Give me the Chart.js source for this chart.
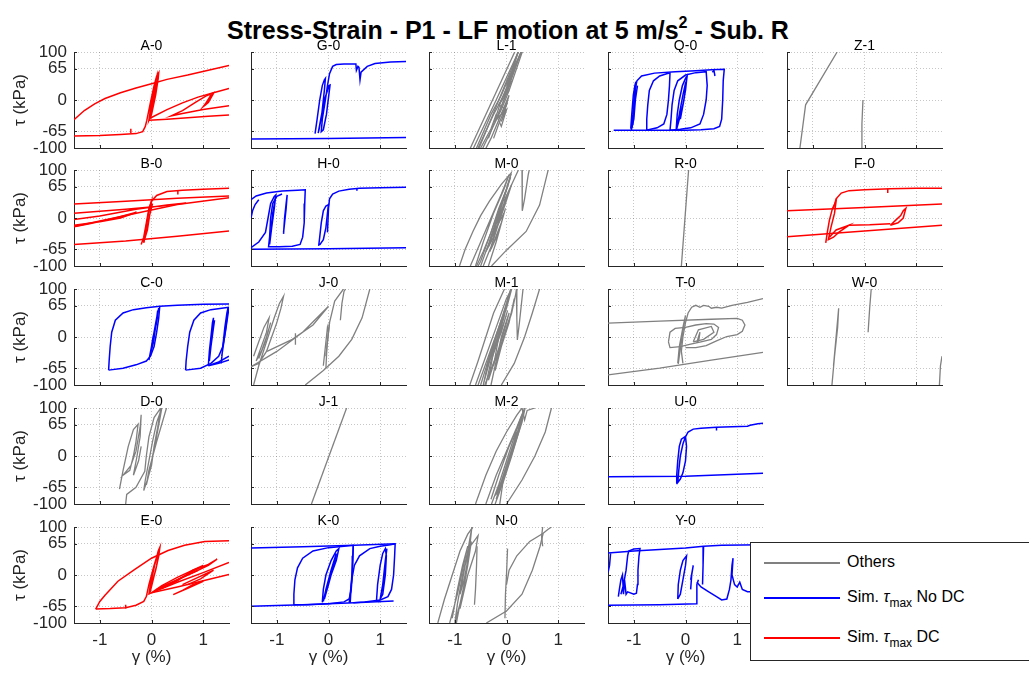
<!DOCTYPE html>
<html><head><meta charset="utf-8">
<script src="https://cdn.jsdelivr.net/npm/chart.js@4/dist/chart.umd.min.js"></script>
<style>
body{margin:0;background:#fff;width:1029px;height:673px;overflow:hidden;position:relative;font-family:"Liberation Sans",Arial,sans-serif;color:#000;}
canvas{position:absolute;}
#title{position:absolute;left:0;width:1016px;top:15px;text-align:center;font-weight:bold;font-size:25px;line-height:30px;}
#title sup{font-size:16px;vertical-align:11px;line-height:0;}
#legend{position:absolute;left:750px;top:542px;width:300px;height:117px;border:1px solid #262626;background:#fff;z-index:5;}
.li{position:absolute;left:13px;width:76px;height:2px;}
.lt{position:absolute;left:96px;font-size:16px;line-height:18px;color:#000;}
.lt sub{font-size:12px;vertical-align:-5px;line-height:0;}
</style></head><body>
<div id="title">Stress-Strain - P1 - LF motion at 5 m/s<sup>2</sup> - Sub. R</div>
<div id="legend">
 <div class="li" style="top:19px;background-color:#808080"></div><div class="lt" style="top:10px">Others</div>
 <div class="li" style="top:54px;background-color:#0000ff"></div><div class="lt" style="top:45px">Sim. <i>τ</i><sub>max</sub> No DC</div>
 <div class="li" style="top:94px;background-color:#ff0000"></div><div class="lt" style="top:85px">Sim. <i>τ</i><sub>max</sub> DC</div>
</div>
<script>
const xTicks = [-1, 0, 1];
const yTicks = [-100, -65, 0, 65, 100];
const panelNames = [["A-0","G-0","L-1","Q-0","Z-1"],["B-0","H-0","M-0","R-0","F-0"],["C-0","J-0","M-1","T-0","W-0"],["D-0","J-1","M-2","U-0",null],["E-0","K-0","N-0","Y-0",null]];
const GRAY = "#808080", BLUE = "#0000ff", RED = "#ff0000";
const panelColors = {"A-0":RED,"B-0":RED,"E-0":RED,"F-0":RED,"G-0":BLUE,"Q-0":BLUE,"H-0":BLUE,"C-0":BLUE,"U-0":BLUE,"K-0":BLUE,"Y-0":BLUE};

const A0 = [
 [[-1.5,-41],[-1.3,-22],[-1.1,-8],[-0.9,3],[-0.6,15],[-0.3,25],[0,34],[0.3,43],[0.7,52],[1.1,62],[1.5,72]],
 [[-1.5,-75],[-1.0,-74],[-0.6,-72],[-0.3,-70],[-0.17,-66],[-0.12,-55],[-0.09,-42],[-0.02,-5],[0.05,30],[0.1,50],[0.14,57],[0.13,45],[0.08,10],[0.0,-30],[-0.05,-42],[-0.02,-20],[0.05,20],[0.11,52],[0.12,40],[0.06,0],[-0.02,-38],[0.02,-10],[0.09,40],[0.08,20],[0.02,-20],[-0.04,-40]],
 [[-0.03,-38],[0.3,-20],[0.6,-6],[0.9,6],[1.2,15],[1.5,24]],
 [[1.5,-12],[1.0,-20],[0.6,-28],[0.38,-33],[0.6,-22],[0.85,-5],[1.05,8],[1.2,15],[1.15,5],[1.05,-10],[1.0,-14],[1.1,0],[1.2,14],[1.1,-5],[1.02,-12],[1.15,10]],
 [[-0.05,-42],[0.3,-40],[0.7,-37],[1.1,-34],[1.5,-31]],
 [[-0.4,-60],[-0.4,-69]]
];
const G0 = [
 [[-1.5,-81.5],[0,-80],[1.5,-78]],
 [[-0.26,-70],[-0.22,-40],[-0.17,0],[-0.12,30],[-0.08,42],[-0.06,45],[-0.08,20],[-0.13,-30],[-0.18,-60],[-0.2,-69],[-0.15,-40],[-0.08,0],[-0.02,20],[0.01,30],[0.03,31],[0.0,5],[-0.04,-30],[-0.1,-62],[-0.14,-66],[-0.12,-40],[-0.06,0],[-0.02,30],[0.02,55],[0.08,70],[0.15,74],[0.3,75],[0.53,75],[0.54,62],[0.57,70],[0.59,68],[0.61,42],[0.63,58],[0.75,70],[0.9,76],[1.2,79],[1.5,80]]
];
const L1 = [
 [[-0.72,-105],[0.18,105]],
 [[0.25,105],[-0.3,-40],[-0.55,-105]],
 [[-0.48,-105],[-0.1,-20],[0.05,20],[0.32,105]],
 [[0.28,100],[0.0,20],[-0.15,-10],[0.05,30],[-0.05,0],[0.1,40],[-0.2,-40],[0.0,-20],[-0.1,-45],[0.05,10],[-0.3,-80],[-0.42,-105]],
 [[-0.6,-105],[-0.3,-30],[-0.1,10],[0.1,60],[0.22,100],[0.1,50],[-0.1,0],[-0.25,-50],[-0.35,-80]],
 [[-0.66,-105],[-0.2,0],[0.25,105]],
 [[-0.5,-100],[-0.3,-60],[-0.2,-30],[-0.1,-55],[0.0,-20],[-0.15,-10],[0.05,20],[-0.05,10],[0.1,50],[0.0,30],[0.15,70],[0.3,100]],
 [[-0.55,-100],[-0.25,-30],[-0.05,10],[0.2,80],[0.28,100],[0.15,60],[-0.05,0],[-0.2,-40],[-0.1,-30],[0.02,-5],[-0.15,-50],[-0.25,-80]]
];
const Q0 = [
 [[-1.39,-63],[-1.05,-63],[-1.02,-50],[-1.0,-20],[-0.98,20],[-0.94,40],[-0.85,50],[-0.6,56],[-0.2,59],[0.2,61],[0.5,63],[0.75,64],[0.73,40],[0.72,0],[0.7,-40],[0.66,-55],[0.55,-60],[0.3,-62],[0.0,-63],[-0.3,-63],[-0.7,-63],[-1.05,-63]],
 [[-1.06,-60],[-1.04,-30],[-1.01,10],[-0.98,30],[-0.96,38],[-0.98,10],[-1.01,-30],[-1.04,-58],[-1.0,-40],[-0.97,0],[-0.93,30]],
 [[-0.76,-63],[-0.75,-40],[-0.73,-10],[-0.7,20],[-0.62,40],[-0.5,50],[-0.35,55],[-0.3,56],[-0.31,30],[-0.33,0],[-0.36,-30],[-0.42,-50],[-0.55,-58],[-0.76,-63]],
 [[-0.3,-63],[-0.28,-40],[-0.26,-10],[-0.22,20],[-0.15,40],[0.0,52],[0.2,57],[0.4,59],[0.42,30],[0.4,0],[0.35,-30],[0.28,-50],[0.1,-58],[-0.1,-61],[-0.3,-63]],
 [[-0.18,-62],[-0.16,-30],[-0.12,0],[-0.06,30],[0.0,45],[0.03,50],[0.0,20],[-0.05,-10],[-0.12,-40],[-0.17,-60],[-0.12,-30],[-0.05,10],[0.0,35],[0.02,40],[-0.03,0],[-0.1,-40]],
 [[0.52,58],[0.55,62],[0.57,50]]
];
const Z1 = [
 [[-1.25,-100],[-1.14,-10],[-0.53,100]],
 [[-0.06,-100],[-0.05,-50],[-0.03,0]]
];
const B0 = [
 [[-0.15,-52],[-0.12,-30],[-0.08,-5],[-0.04,20],[0.0,35],[0.1,47],[0.3,55],[0.6,58],[1.0,60],[1.5,62]],
 [[0.51,58],[0.51,49]],
 [[-1.5,29],[-0.5,35],[0.5,41],[1.5,46]],
 [[-1.5,10],[-0.5,18],[0.2,25],[0.67,31],[0.3,27],[-0.3,18],[-1.0,4],[-1.5,-3]],
 [[-1.5,-15],[-1.0,-8],[-0.6,0],[-0.29,12],[-0.7,0],[-1.2,-12],[-1.5,-18]],
 [[-1.5,-18],[-0.5,5],[0.5,28],[1.5,42]],
 [[-0.2,-55],[-0.15,-40],[-0.1,-10],[-0.05,20],[0.0,35],[-0.03,10],[-0.08,-25],[-0.15,-50],[-0.1,-30],[-0.03,10],[0.02,30],[-0.05,0],[-0.12,-40]],
 [[-1.5,-55],[-0.5,-48],[0.5,-38],[1.5,-27]]
];
const H0 = [
 [[-1.5,-65],[0,-64],[1.5,-62]],
 [[-1.5,38],[-1.4,46],[-1.2,52],[-0.9,56],[-0.6,58],[-0.45,59],[-0.46,30],[-0.47,-10],[-0.5,-40],[-0.55,-55],[-0.7,-59],[-0.95,-60],[-1.16,-60],[-1.14,-40],[-1.12,0],[-1.08,30],[-1.0,45],[-0.9,50]],
 [[-1.5,-62],[-1.35,-50],[-1.22,-30],[-1.17,0],[-1.12,30],[-1.05,45],[-1.02,48],[-1.05,20],[-1.1,-20],[-1.14,-55],[-1.12,-30],[-1.08,10],[-1.03,40]],
 [[-0.87,-33],[-0.85,0],[-0.82,30],[-0.8,48],[-0.82,20],[-0.85,-10],[-0.87,-30],[-0.83,10],[-0.81,40]],
 [[-1.5,0],[-1.47,15],[-1.42,28],[-1.35,38]],
 [[-0.19,-58],[-0.17,-40],[-0.14,-10],[-0.1,15],[-0.05,25],[0.0,28],[-0.02,10],[-0.05,-20],[-0.1,-45],[-0.17,-56]],
 [[-0.02,-30],[0.0,20],[0.02,40],[0.08,50],[0.2,56],[0.4,60],[0.6,62],[1.0,63],[1.5,64]],
 [[0.55,62],[0.55,57]]
];
const M0 = [
 [[-0.91,-100],[-0.8,-65],[-0.65,-28],[-0.5,5],[-0.33,35],[-0.1,70],[0.09,94],[0.0,60],[-0.1,30],[-0.2,0],[-0.3,-30],[-0.4,-60],[-0.5,-90],[-0.55,-100]],
 [[-0.58,-100],[-0.45,-70],[-0.3,-30],[-0.15,20],[0.0,60],[0.09,92],[-0.05,40],[-0.2,-10],[-0.35,-60],[-0.3,-40],[-0.15,0],[-0.05,30],[0.0,45],[-0.1,10],[-0.25,-40],[-0.4,-70],[-0.2,-20],[-0.05,10],[-0.15,-30],[-0.3,-65],[-0.1,-10],[-0.02,20],[-0.2,-50],[-0.35,-100]],
 [[-0.29,-100],[0.0,-67],[0.38,-28],[0.64,27],[0.8,97],[0.82,105]],
 [[0.3,100],[0.3,50],[0.31,15],[0.35,40],[0.42,90],[0.44,100]],
 [[0.23,100],[0.1,70],[-0.05,35]],
 [[-0.7,-100],[-0.5,-50],[-0.3,0],[-0.1,50],[0.05,90],[-0.05,60],[-0.25,10],[-0.45,-50],[-0.6,-100]],
 [[-0.45,-100],[-0.3,-60],[-0.15,-10],[0.0,40],[0.1,70],[-0.02,30],[-0.18,-20],[-0.32,-70]],
 [[-0.5,-100],[-0.35,-55],[-0.2,-5],[-0.05,45],[0.08,85],[-0.08,35],[-0.22,-15],[-0.35,-60]]
];
const R0 = [
 [[-0.08,-100],[0.06,100]]
];
const F0 = [
 [[-1.5,15],[0,22],[1.5,29]],
 [[-1.5,-39],[0,-27],[1.5,-15]],
 [[-0.6,20],[-0.55,40],[-0.45,52],[-0.3,57],[0,59],[0.5,61],[1.0,62],[1.5,62]],
 [[0.45,61],[0.45,52]],
 [[-0.75,-52],[-0.72,-30],[-0.68,-5],[-0.62,20],[-0.55,35],[-0.58,10],[-0.65,-20],[-0.7,-45],[-0.6,-40],[-0.5,-30],[-0.3,-15],[-0.55,-25],[-0.68,-40]],
 [[-0.3,-15],[0.1,-14],[0.5,-12]],
 [[0.5,-15],[0.6,-5],[0.7,5],[0.75,15],[0.8,20],[0.75,0],[0.65,-10],[0.5,-15]]
];
const C0 = [
 [[-0.83,-69],[-0.82,-50],[-0.8,-20],[-0.77,10],[-0.7,35],[-0.55,50],[-0.35,57],[-0.1,61],[0.16,64],[0.5,66],[1.0,68],[1.5,69]],
 [[0.16,64],[0.14,40],[0.1,10],[0.05,-20],[-0.02,-40],[-0.1,-50],[-0.3,-58],[-0.55,-65],[-0.83,-69]],
 [[-0.05,-48],[0.0,-20],[0.05,10],[0.1,40],[0.14,60],[0.1,30],[0.03,0],[-0.03,-40],[0.04,-10],[0.09,30],[0.12,55],[0.08,20],[0.0,-20]],
 [[0.66,-69],[0.67,-50],[0.7,-20],[0.74,10],[0.82,35],[0.95,50],[1.15,57],[1.5,62]],
 [[1.5,62],[1.47,40],[1.43,10],[1.38,-20],[1.3,-40],[1.15,-55],[0.95,-65],[0.66,-69]],
 [[1.1,-60],[1.12,-30],[1.15,0],[1.18,30],[1.2,40],[1.17,0],[1.12,-50],[1.15,-20],[1.2,20],[1.22,35]],
 [[1.5,-40],[1.3,-52],[1.1,-60],[1.3,-55],[1.5,-48]],
 [[1.35,-55],[1.38,-20],[1.42,20],[1.46,50],[1.48,60],[1.45,30],[1.4,-10],[1.36,-40]]
];
const J0 = [
 [[-1.45,-100],[-1.35,-60],[-1.2,-10],[-1.05,40],[-0.95,70],[-0.87,85],[-0.92,60],[-1.0,30],[-1.1,0],[-1.2,-30],[-1.35,-55],[-1.5,-62]],
 [[-1.5,-62],[-1.0,-30],[-0.5,10],[0.0,64],[-0.3,25],[-0.7,-5],[-1.19,-30]],
 [[-1.45,-40],[-1.35,-10],[-1.25,20],[-1.15,40],[-1.2,10],[-1.3,-20],[-1.4,-50],[-1.3,-30],[-1.2,0],[-1.12,30],[-1.22,-10],[-1.35,-45]],
 [[-0.64,8],[-0.64,-16]],
 [[-0.45,-100],[-0.1,-70],[0.2,-40],[0.45,-5],[0.65,40],[0.8,100]],
 [[-0.05,-65],[-0.03,-20],[0.02,30],[0.12,75],[0.29,100]],
 [[-0.1,-60],[-0.06,-20],[-0.02,20],[0.0,10],[-0.05,-40],[-0.02,-10],[0.02,30]],
 [[0.23,35],[0.26,70],[0.3,95],[0.33,100]]
];
const M1 = [
 [[-0.71,-100],[-0.55,-50],[-0.4,0],[-0.25,50],[-0.04,100]],
 [[-0.6,-100],[-0.4,-40],[-0.2,20],[0.0,80],[0.1,100],[0.0,60],[-0.2,0],[-0.35,-50],[-0.45,-100],[-0.3,-40],[-0.1,20],[0.05,90],[-0.05,40],[-0.25,-30],[-0.35,-90],[-0.2,-40],[-0.05,10],[0.05,50],[-0.1,0],[-0.3,-100]],
 [[-0.1,-100],[0.15,-55],[0.35,0],[0.5,50],[0.64,100]],
 [[0.19,100],[0.2,40],[0.21,-6],[0.25,30],[0.32,100]],
 [[-0.5,-100],[-0.3,-30],[-0.15,20],[0.0,70],[-0.12,20],[-0.28,-40],[-0.2,-10],[-0.05,30],[-0.15,0],[-0.25,-60]],
 [[-0.55,-100],[-0.35,-40],[-0.15,20],[0.0,65],[0.08,100],[-0.05,50],[-0.2,0],[-0.38,-60],[-0.25,-30],[-0.1,10],[0.02,55],[-0.12,5],[-0.3,-50],[-0.4,-100]],
 [[-0.42,-100],[-0.2,-40],[-0.05,0],[0.1,50],[0.2,100],[0.12,60],[0.0,20],[-0.15,-30],[-0.22,-70],[-0.1,-20],[0.05,30],[0.15,80]]
];
const T0 = [
 [[-1.5,-79],[-0.5,-65],[0.5,-48],[1.5,-32]],
 [[-1.5,29],[-0.5,33],[0.5,37],[1.0,39],[1.1,35],[1.15,25],[1.1,12],[1.0,5],[0.8,1],[0.6,-8],[0.4,-18],[0.2,-22],[0.0,-22]],
 [[-0.05,-55],[-0.08,-30],[-0.05,0],[0.0,30],[0.05,50],[0.12,62],[0.2,66],[0.28,62],[0.35,66],[0.45,64],[0.5,60],[0.6,62],[0.7,60],[0.9,66],[1.2,72],[1.5,80]],
 [[-0.33,-10],[-0.3,10],[-0.2,18],[0.0,20],[0.2,25],[0.4,28],[0.55,27],[0.64,20],[0.6,5],[0.5,-5],[0.3,-10],[0.1,-15],[-0.1,-20],[-0.3,-22],[-0.33,-10]],
 [[-0.15,-55],[-0.12,-20],[-0.05,20],[0.0,45],[-0.05,10],[-0.12,-40],[-0.14,-56]],
 [[0.15,-10],[0.25,15],[0.5,22],[0.55,10],[0.35,-5],[0.15,-10]],
 [[0.22,-12],[0.25,0],[0.28,10],[0.26,-5],[0.23,-12]]
];
const W0 = [
 [[-0.63,-100],[-0.58,-40],[-0.52,20],[-0.5,60],[-0.55,0],[-0.6,-60]],
 [[0.07,10],[0.1,60],[0.13,100]],
 [[1.45,-100],[1.47,-60],[1.5,-40]]
];
const D0 = [
 [[-0.62,-69],[-0.55,-30],[-0.45,20],[-0.35,55],[-0.26,66],[-0.3,30],[-0.35,0],[-0.42,-30],[-0.55,-40],[-0.4,-20],[-0.3,10],[-0.22,60],[-0.2,86],[-0.22,40],[-0.28,0],[-0.35,-40],[-0.25,-10],[-0.2,20]],
 [[-0.5,-100],[-0.48,-80],[-0.3,-65],[-0.13,-32],[-0.1,0],[-0.05,40],[0.05,80],[0.18,100],[0.12,60],[0.05,20],[0.0,-20],[-0.08,-50],[-0.15,-72],[-0.12,-50],[-0.05,-10],[0.02,30],[0.1,70],[0.2,100],[0.15,70],[0.08,30],[0.02,0],[-0.03,-30],[-0.1,-60],[-0.05,-30],[0.1,30],[0.29,100]]
];
const J1 = [
 [[-0.33,-100],[0.35,100]]
];
const M2 = [
 [[-0.6,-100],[-0.4,-40],[-0.2,10],[0.0,50],[0.2,85],[0.3,100]],
 [[0.0,-100],[0.3,-50],[0.55,0],[0.75,50],[0.87,100]],
 [[-0.29,-100],[-0.15,-60],[0.0,-10],[0.15,40],[0.28,80],[0.35,95],[0.3,70],[0.15,20],[0.0,-30],[-0.15,-75],[-0.2,-80],[-0.05,-40],[0.1,10],[0.25,60],[0.3,80],[0.2,40],[0.05,-10],[-0.1,-60],[-0.15,-70],[0.0,-20],[0.15,30],[0.2,50],[0.1,10],[-0.05,-40],[-0.13,-100]],
 [[0.3,100],[0.35,75],[0.4,95],[0.55,100]],
 [[-0.22,-100],[-0.05,-50],[0.1,0],[0.25,55],[0.32,90],[0.2,45],[0.05,-5],[-0.1,-55],[-0.2,-90]],
 [[-0.4,-100],[-0.2,-40],[0.0,10],[0.2,60],[0.35,100],[0.25,70],[0.05,20],[-0.15,-40],[-0.3,-90]]
];
const U0 = [
 [[-1.5,-43],[0,-42],[1.5,-36]],
 [[-0.18,-57],[-0.17,-40],[-0.15,-10],[-0.12,20],[-0.08,35],[0.0,41],[0.02,20],[0.0,-10],[-0.05,-35],[-0.1,-48],[-0.15,-55],[-0.13,-30],[-0.1,0],[-0.05,25],[0.0,40],[0.05,50],[0.15,56],[0.3,58],[0.6,60],[0.9,61],[1.2,62],[1.25,64],[1.4,67],[1.5,68]],
 [[0.6,60],[0.6,53]]
];
const E0 = [
 [[-1.08,-71],[-1.0,-55],[-0.9,-42],[-0.65,-13],[-0.33,11],[0.0,35],[0.32,51],[0.64,62],[1.03,70],[1.5,71.5]],
 [[-1.08,-71],[-0.8,-70],[-0.5,-68],[-0.3,-63],[-0.15,-55],[-0.1,-45],[-0.05,-20],[0.05,20],[0.12,45],[0.16,56],[0.14,40],[0.08,10],[0.0,-20],[-0.05,-40],[-0.02,-20],[0.06,20],[0.13,50],[0.15,55],[0.1,20],[0.02,-15],[-0.03,-37]],
 [[-0.5,-62],[-0.5,-70]],
 [[0.0,-37],[0.3,-20],[0.6,-5],[0.9,10],[1.1,20],[1.27,33],[1.1,22],[0.8,10],[0.5,-5],[0.2,-22],[0.0,-37],[0.5,-15],[1.0,5],[1.5,26]],
 [[0.0,-37],[0.5,-25],[1.0,-12],[1.5,1]],
 [[0.42,-41],[0.7,-28],[1.0,-13],[0.8,-20],[0.6,-32],[0.42,-41]],
 [[0.5,-10],[0.7,0],[0.9,10],[0.8,5],[0.6,-5]],
 [[0.1,-30],[0.5,-10],[0.75,5],[1.0,20],[0.8,10],[0.5,-12],[0.2,-28]],
 [[0.6,-20],[0.9,-5],[1.2,10],[0.95,-8],[0.7,-20]]
];
const K0 = [
 [[-1.5,56],[-0.5,59],[0.5,62],[1.29,65],[1.28,40],[1.26,0],[1.22,-30],[1.15,-45],[1.0,-52],[0.7,-56],[0.48,-58]],
 [[-1.5,-65],[-0.5,-62],[0.5,-58],[1.26,-54]],
 [[-0.68,-62],[-0.67,-40],[-0.65,-10],[-0.6,15],[-0.5,35],[-0.3,50],[0.0,57],[0.3,60],[0.48,62],[0.47,40],[0.46,0],[0.44,-30],[0.4,-50],[0.3,-56],[0.0,-60],[-0.4,-62],[-0.68,-62]],
 [[0.4,-58],[0.42,-40],[0.45,-10],[0.5,20],[0.6,40],[0.8,55],[1.0,60],[1.2,63],[1.29,65]],
 [[-0.12,-57],[-0.1,-30],[-0.05,0],[0.05,30],[0.15,50],[0.2,55],[0.15,30],[0.05,0],[-0.05,-30],[-0.1,-55],[-0.05,-30],[0.05,10],[0.15,45],[0.1,20],[0.0,-20],[-0.08,-50]],
 [[0.93,-52],[0.95,-20],[1.0,20],[1.05,45],[1.1,55],[1.12,40],[1.1,0],[1.05,-40],[1.0,-50],[1.05,-20],[1.1,30],[1.13,55]],
 [[0.48,62],[0.47,30],[0.44,-20],[0.42,-58]]
];
const N0 = [
 [[-1.33,-100],[-1.2,-50],[-1.05,0],[-0.9,50],[-0.75,85],[-0.65,100]],
 [[-0.97,-100],[-0.9,-60],[-0.8,-10],[-0.72,50],[-0.67,100],[-0.75,50],[-0.85,0],[-0.95,-60],[-1.0,-100],[-0.85,-40],[-0.75,20],[-0.68,70],[-0.8,20],[-0.9,-40],[-0.82,-10],[-0.7,60],[-0.55,82],[-0.6,50],[-0.75,0],[-0.9,-70]],
 [[-0.57,60],[-0.58,20],[-0.6,-30],[-0.62,-62]],
 [[-0.39,-100],[0.0,-75],[0.3,-40],[0.5,10],[0.65,60],[0.71,87]],
 [[0.0,-20],[0.05,10],[0.2,40],[0.45,70],[0.71,87],[0.8,95],[0.87,100]],
 [[-0.03,-90],[-0.02,-40],[0.0,0],[0.02,55]],
 [[0.7,100],[0.68,80],[0.7,60]],
 [[-1.1,-100],[-0.95,-40],[-0.85,10],[-0.75,60],[-0.85,20],[-0.95,-30],[-1.05,-90]]
];
const Y0 = [
 [[-1.5,46],[-1.0,50],[-0.5,53],[0.0,56],[0.35,60],[0.7,62],[1.5,63]],
 [[-1.5,-63],[-0.5,-62],[0.22,-60],[0.22,-20],[0.25,-10]],
 [[0.35,60],[0.34,20],[0.33,-20]],
 [[-1.5,5],[-1.47,20],[-1.45,45]],
 [[-1.3,-45],[-1.28,-30],[-1.25,-10],[-1.22,0],[-1.2,-40],[-1.18,-10],[-1.15,-40],[-1.12,-35],[-1.0,-40],[-0.95,-38],[-0.93,-20],[-0.92,10],[-0.9,40],[-0.88,55],[-1.0,54],[-1.1,50],[-1.12,40],[-1.15,10],[-1.2,-20],[-1.25,-40]],
 [[-0.15,-50],[-0.14,-20],[-0.1,10],[-0.05,30],[0.02,40],[0.0,20],[-0.05,-10],[-0.1,-40],[-0.15,-50]],
 [[0.1,-30],[0.12,0],[0.15,20],[0.1,-10]],
 [[0.22,-15],[0.3,-25],[0.45,-35],[0.6,-45],[0.7,-52],[0.8,-50],[0.85,-30],[0.88,-10],[0.9,20],[0.92,35],[0.9,0],[0.95,-20],[1.0,-25],[1.05,-15],[1.1,-30],[1.2,-35],[1.35,-35],[1.45,-30],[1.5,-25]]
];
const panelData = {"A-0":A0,"G-0":G0,"L-1":L1,"Q-0":Q0,"Z-1":Z1,"B-0":B0,"H-0":H0,"M-0":M0,"R-0":R0,"F-0":F0,"C-0":C0,"J-0":J0,"M-1":M1,"T-0":T0,"W-0":W0,"D-0":D0,"J-1":J1,"M-2":M2,"U-0":U0,"E-0":E0,"K-0":K0,"N-0":N0,"Y-0":Y0};

const colLeft = [74, 251, 429, 608, 787];
const rowTop = [52, 170, 289, 408, 527];
const PW = 155, PH = 96, ML = 64, MT = 22, MB = 50, MR = 64;
const AX = "#262626";
const FONT = "'Liberation Sans', Arial, sans-serif";

const inTicks = {
  id: 'inTicks',
  afterDraw(chart) {
    const {ctx, chartArea: a, scales: {x, y}} = chart;
    ctx.save();
    ctx.strokeStyle = AX; ctx.lineWidth = 1;
    ctx.beginPath();
    for (const v of yTicks) { const p = Math.round(y.getPixelForValue(v)) + 0.5; ctx.moveTo(a.left, p); ctx.lineTo(a.left + 3, p); }
    for (const v of xTicks) { const p = Math.round(x.getPixelForValue(v)) + 0.5; ctx.moveTo(p, a.bottom); ctx.lineTo(p, a.bottom - 3); }
    ctx.stroke();
    ctx.restore();
  }
};

panelNames.forEach((row, r) => row.forEach((name, c) => {
  if (!name) return;
  const cv = document.createElement('canvas');
  const W = ML + PW + MR, H = MT + PH + MB;
  cv.width = W; cv.height = H;
  cv.style.left = (colLeft[c] - ML) + 'px';
  cv.style.top = (rowTop[r] - MT) + 'px';
  cv.style.width = W + 'px'; cv.style.height = H + 'px';
  document.body.appendChild(cv);
  const color = panelColors[name] || GRAY;
  const firstCol = c === 0, lastRow = r === 4;
  new Chart(cv, {
    type: 'scatter',
    data: { datasets: panelData[name].map(curve => ({
      data: curve.map(p => ({x: p[0], y: p[1]})),
      showLine: true, borderColor: color, backgroundColor: color,
      borderWidth: color === GRAY ? 1.3 : 1.5, pointRadius: 0, tension: 0, fill: false
    })) },
    options: {
      responsive: false, animation: false, devicePixelRatio: 1,
      layout: { padding: { top: 0, left: 0, right: 0, bottom: 0 } },
      plugins: {
        legend: { display: false }, tooltip: { enabled: false },
        title: { display: true, text: name, color: '#000', font: { family: FONT, size: 14, weight: 'normal', lineHeight: '12px' }, padding: { top: 10, bottom: 0 } }
      },
      scales: {
        x: {
          type: 'linear', min: -1.5, max: 1.5,
          afterBuildTicks: s => { s.ticks = xTicks.map(v => ({value: v})); },
          afterFit: s => { s.height = MB; },
          grid: { color: 'rgba(0,0,0,0.22)', lineWidth: 1, drawTicks: false },
          border: { display: true, color: AX, width: 1, dash: [1, 2] },
          ticks: { display: lastRow, padding: 7, color: AX, font: { family: FONT, size: 17 }, callback: v => String(v) },
          title: { display: lastRow, text: 'γ (%)', color: AX, font: { family: FONT, size: 17 }, padding: { top: 0, bottom: 5 } }
        },
        y: {
          type: 'linear', min: -100, max: 100, position: 'left',
          afterBuildTicks: s => { s.ticks = yTicks.map(v => ({value: v})); },
          afterFit: s => { s.width = ML; },
          grid: { color: 'rgba(0,0,0,0.22)', lineWidth: 1, drawTicks: false },
          border: { display: true, color: AX, width: 1, dash: [1, 2] },
          ticks: { display: firstCol, padding: 7, color: AX, font: { family: FONT, size: 17 }, callback: v => String(v) },
          title: { display: firstCol, text: 'τ (kPa)', color: AX, font: { family: FONT, size: 17 }, padding: { top: 0, bottom: 0 } }
        },
        yR: {
          type: 'linear', position: 'right', display: true, min: -100, max: 100,
          afterFit: s => { s.width = MR; },
          grid: { display: false }, border: { display: false }, ticks: { display: false }
        }
      }
    },
    plugins: [inTicks]
  });
}));
</script>
</body></html>
